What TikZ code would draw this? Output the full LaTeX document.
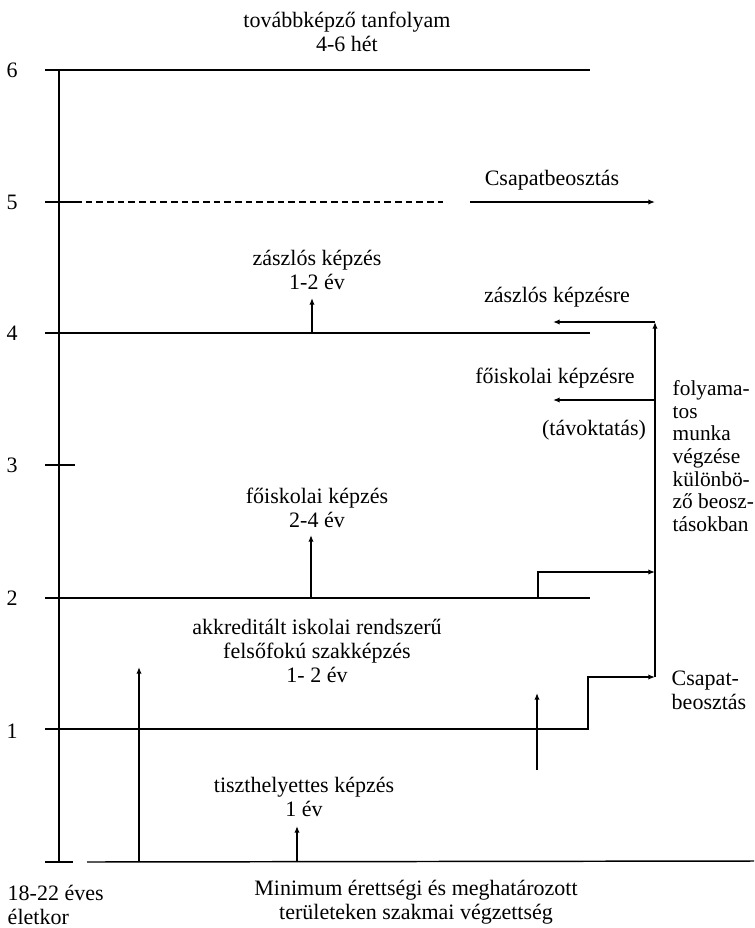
\documentclass[tikz,border=0pt]{standalone}
\usepackage{fontspec}
\setmainfont{Liberation Serif}
\usetikzlibrary{arrows.meta}

\begin{document}
\begin{tikzpicture}[x=0.75pt, y=-0.75pt, line width=1.1pt,
    >={Latex[length=5pt,width=4pt]},
    txt/.style={align=center, inner sep=0pt, font=\fontsize{16.5}{18}\selectfont}]
    \useasboundingbox (0,0) rectangle (754,928);
    % level numbers
    \node[txt] (n6) at (12,70) {6};
    \node[txt] (n5) at (12,202) {5};
    \node[txt] (n4) at (12,333) {4};
    \node[txt] (n3) at (12,465) {3};
    \node[txt] (n2) at (12,598) {2};
    \node[txt] (n1) at (12,731) {1};
    % axis
    \coordinate (ax6) at (59,70);
    \coordinate (ax0) at (59,862);
    \draw[line width=1.6pt] (ax6) -- (ax0);
    \draw (45,465) -- (75,465);
    \draw (45,862) -- (73,862);
    \coordinate (base1) at (87,862);
    \coordinate (base2) at (754,861);
    \draw (base1) -- (base2);
    % level 6
    \coordinate (l6a) at (45,70);
    \coordinate (l6b) at (590,70);
    \draw (l6a) -- (l6b);
    \node[txt] (tovabb) at (347,32) {továbbképző tanfolyam\\4-6 hét};
    % level 5
    \draw (45,202) -- (75,202);
    \draw[dashed, dash pattern=on 5pt off 3pt] (75,202) -- (443,202);
    \coordinate (cs1) at (470,202);
    \coordinate (cs2) at (655,202);
    \draw[->] (cs1) -- (cs2);
    \node[txt] (csapat) at (552,180) {Csapatbeosztás};
    % level 4
    \coordinate (l4a) at (45,333);
    \coordinate (l4b) at (590,333);
    \draw (l4a) -- (l4b);
    \coordinate (zk1) at (312,333);
    \coordinate (zk2) at (312,298);
    \draw[->] (zk1) -- (zk2);
    \node[txt] (zaszlos) at (317,270) {zászlós képzés\\1-2 év};
    % level 2
    \coordinate (l2a) at (45,598);
    \coordinate (l2b) at (590,598);
    \draw (l2a) -- (l2b);
    \coordinate (fk1) at (311,598);
    \coordinate (fk2) at (311,535);
    \draw[->] (fk1) -- (fk2);
    \node[txt] (foisk) at (317,508) {főiskolai képzés\\2-4 év};
    \coordinate (st2a) at (538,598);
    \coordinate (st2b) at (538,572);
    \coordinate (st2c) at (655,572);
    \draw[->] (st2a) -- (st2b) -- (st2c);
    % level 1
    \coordinate (l1a) at (45,729);
    \coordinate (l1b) at (588,729);
    \coordinate (l1c) at (588,677);
    \coordinate (l1d) at (655,677);
    \draw[->] (l1a) -- (l1b) -- (l1c) -- (l1d);
    \node[txt] (akkr) at (317,651) {akkreditált iskolai rendszerű\\felsőfokú szakképzés\\1- 2 év};
    \coordinate (ak1) at (139,862);
    \coordinate (ak2) at (139,667);
    \draw[->] (ak1) -- (ak2);
    \coordinate (up1) at (537,770);
    \coordinate (up2) at (537,693);
    \draw[->] (up1) -- (up2);
    \node[txt, anchor=west, align=left] (csbeo) at (671,690) {Csapat-\\beosztás};
    % bottom
    \coordinate (th1) at (297,862);
    \coordinate (th2) at (297,826);
    \draw[->] (th1) -- (th2);
    \node[txt] (tiszth) at (304,797) {tiszthelyettes képzés\\1 év};
    \node[txt, anchor=west, align=left] (eletkor) at (7,905) {18-22 éves\\életkor};
    \node[txt] (minimum) at (416,902) {Minimum érettségi és meghatározott\\területeken szakmai végzettség};
    % right side
    \coordinate (rv1) at (655,677);
    \coordinate (rv2) at (655,322);
    \draw[->] (rv1) -- (rv2);
    \coordinate (zr) at (553,322);
    \draw[->] (rv2) -- (zr);
    \node[txt] (zaszre) at (557,297) {zászlós képzésre};
    \coordinate (fr1) at (655,400);
    \coordinate (fr2) at (553,400);
    \draw[->] (fr1) -- (fr2);
    \node[txt] (foisre) at (555,378) {főiskolai képzésre};
    \node[txt] (tavokt) at (594,430) {(távoktatás)};
    \node[txt, anchor=west, align=left, font=\fontsize{16}{17}\selectfont] (folyam) at (672,456)
        {folyama-\\tos\\munka\\végzése\\különbö-\\ző beosz-\\tásokban};
\end{tikzpicture}
\end{document}
